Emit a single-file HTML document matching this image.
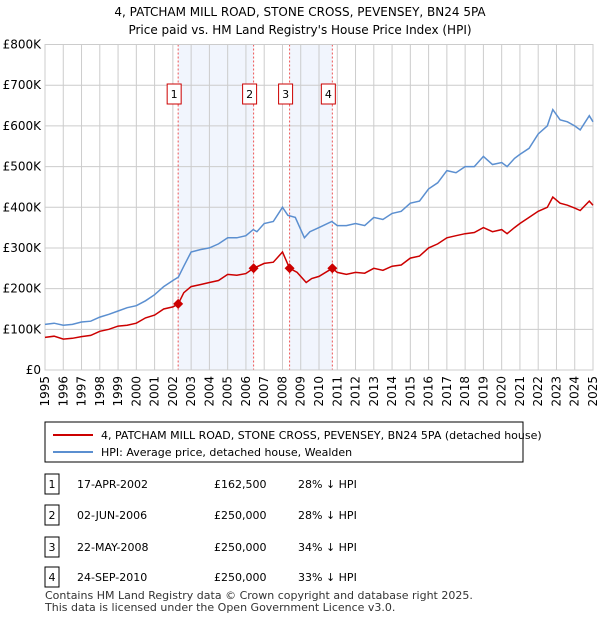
<!DOCTYPE html>
<html><head><meta charset="utf-8"><style>
body{margin:0;background:#fff;font-family:"Liberation Sans","DejaVu Sans",sans-serif;}
svg text{font-family:"DejaVu Sans","Liberation Sans",sans-serif;}
</style></head><body>
<svg width="600" height="620" xmlns="http://www.w3.org/2000/svg">
<text x="300" y="16" text-anchor="middle" font-size="12">4, PATCHAM MILL ROAD, STONE CROSS, PEVENSEY, BN24 5PA</text>
<text x="300" y="34" text-anchor="middle" font-size="12">Price paid vs. HM Land Registry's House Price Index (HPI)</text>
<g id="plot"></g>
<g>
<rect x="45" y="422" width="478" height="40" fill="#fff" stroke="#000" stroke-width="1"/>
<line x1="53" y1="435" x2="93" y2="435" stroke="#cc0000" stroke-width="2"/>
<text x="101" y="439" font-size="11">4, PATCHAM MILL ROAD, STONE CROSS, PEVENSEY, BN24 5PA (detached house)</text>
<line x1="53" y1="452" x2="93" y2="452" stroke="#5b8fd0" stroke-width="2"/>
<text x="101" y="456" font-size="11">HPI: Average price, detached house, Wealden</text>
</g>
<g id="table" font-size="11"></g>
<text x="45" y="599" font-size="11" fill="#333">Contains HM Land Registry data © Crown copyright and database right 2025.</text>
<text x="45" y="611" font-size="11" fill="#333">This data is licensed under the Open Government Licence v3.0.</text>
</svg>
<script>
const hpiT=[1995,1995.5,1996,1996.5,1997,1997.5,1998,1998.5,1999,1999.5,2000,2000.5,2001,2001.5,2002,2002.3,2002.6,2003,2003.5,2004,2004.5,2005,2005.5,2006,2006.4,2006.6,2007,2007.5,2008,2008.3,2008.7,2009.2,2009.5,2010,2010.7,2011,2011.5,2012,2012.5,2013,2013.5,2014,2014.5,2015,2015.5,2016,2016.5,2017,2017.5,2018,2018.5,2019,2019.5,2020,2020.3,2020.7,2021,2021.5,2022,2022.5,2022.8,2023.2,2023.6,2024,2024.3,2024.8,2025];
const hpiV=[112,115,110,112,118,120,130,137,145,153,158,170,185,205,220,228,255,290,296,300,310,325,325,330,345,340,360,365,400,380,375,325,340,350,365,355,355,360,355,375,370,385,390,410,415,445,460,490,485,500,500,525,505,510,500,520,530,545,580,600,640,615,610,600,590,625,610];
const ppT=[1995,1995.5,1996,1996.5,1997,1997.5,1998,1998.5,1999,1999.5,2000,2000.5,2001,2001.5,2002,2002.29,2002.6,2003,2003.5,2004,2004.5,2005,2005.5,2006,2006.42,2007,2007.5,2008,2008.39,2008.8,2009.3,2009.6,2010,2010.73,2011,2011.5,2012,2012.5,2013,2013.5,2014,2014.5,2015,2015.5,2016,2016.5,2017,2017.5,2018,2018.5,2019,2019.5,2020,2020.3,2020.7,2021,2021.5,2022,2022.5,2022.8,2023.2,2023.6,2024,2024.3,2024.8,2025];
const ppV=[80,83,76,78,82,85,95,100,108,110,115,128,135,150,155,162.5,190,205,210,215,220,235,233,237,250,262,265,290,250,240,215,225,230,250,240,235,240,238,250,245,255,258,275,280,300,310,325,330,335,338,350,340,345,335,350,360,375,390,400,425,410,405,398,392,415,405];
const saleT=[2002.29,2006.42,2008.39,2010.73];
const saleV=[162.5,250,250,250];
const saleLabels=["1","2","3","4"];
const saleDates=["17-APR-2002","02-JUN-2006","22-MAY-2008","24-SEP-2010"];
const salePrices=["£162,500","£250,000","£250,000","£250,000"];
const saleHpi=["28% ↓ HPI","28% ↓ HPI","34% ↓ HPI","33% ↓ HPI"];
const yTicks=[0,100,200,300,400,500,600,700,800];
const yLabels=["£0","£100K","£200K","£300K","£400K","£500K","£600K","£700K","£800K"];
const years=[];for(let y=1995;y<=2025;y++)years.push(y);

const NS="http://www.w3.org/2000/svg";
const X0=45,X1=593,Y0=370,Y1=44.5;
const sx=t=>X0+(t-1995)/30*(X1-X0);
const sy=v=>Y0-v/800*(Y0-Y1);
const plot=document.getElementById('plot');
function mk(tag,a,p){const e=document.createElementNS(NS,tag);for(const k in a)e.setAttribute(k,a[k]);(p||plot).appendChild(e);return e;}
for(let i=0;i<saleT.length;i+=2){
 const r=mk('rect',{x:sx(saleT[i]),y:Y1,width:sx(saleT[i+1])-sx(saleT[i]),height:Y0-Y1,fill:'#eef3fc',opacity:0.8});
 
 
}
years.forEach(y=>{const l=mk('line',{x1:sx(y),x2:sx(y),y1:Y1,y2:Y0,stroke:'#cccccc','stroke-width':1});
 
 
 const t=mk('text',{x:0,y:0,'font-size':12,'text-anchor':'end',transform:`translate(${sx(y)+4},${Y0+6}) rotate(-90)`});
 t.textContent=y;
 
 
});
yTicks.forEach((v,i)=>{const l=mk('line',{x1:X0,x2:X1,y1:sy(v),y2:sy(v),stroke:'#cccccc','stroke-width':1});
 
 
 const t=mk('text',{x:X0-4,y:sy(v)+4,'font-size':12,'text-anchor':'end'});
 t.textContent=yLabels[i];
 
 
});
saleT.forEach((t,i)=>{
 const l=mk('line',{x1:sx(t),x2:sx(t),y1:Y1,y2:Y0,stroke:'#ee5555','stroke-width':1,'stroke-dasharray':'2,2'});
 
 
 const b=mk('rect',{x:sx(t)-11,y:84,width:14,height:20,fill:'#fff',stroke:'#cc0000'});
 
 
 const tx=mk('text',{x:sx(t)-4,y:98,'font-size':11,'text-anchor':'middle'});
 tx.textContent=saleLabels[i];
 
 
});
mk('rect',{x:X0,y:Y1,width:X1-X0,height:Y0-Y1,fill:'none',stroke:'#cccccc'});
const pts=(T,V)=>T.map((t,i)=>sx(t).toFixed(1)+','+sy(V[i]).toFixed(1)).join(' ');
const h=mk('polyline',{points:pts(hpiT,hpiV),fill:'none',stroke:'#5b8fd0','stroke-width':1.5});


const p=mk('polyline',{points:pts(ppT,ppV),fill:'none',stroke:'#cc0000','stroke-width':1.5});


saleT.forEach((t,i)=>{const c=mk('path',{d:`M${sx(t)},${sy(saleV[i])-5}l5,5l-5,5l-5,-5z`,fill:'#cc0000'});
 
 
});
const tb=document.getElementById('table');
const rowsY=[484,515,547,577];
saleLabels.forEach((s,i)=>{const y=rowsY[i];
 const b=mk('rect',{x:45,y:y-10,width:14,height:20,fill:'#fff',stroke:'#000'},tb);
 
 
 const vals=[[52,s,'middle'],[77,saleDates[i],'start'],[214,salePrices[i],'start'],[298,saleHpi[i],'start']];
 vals.forEach(v=>{const t=mk('text',{x:v[0],y:y+4,'text-anchor':v[2]},tb);t.textContent=v[1];
  
  });
});
</script>
</body></html>
